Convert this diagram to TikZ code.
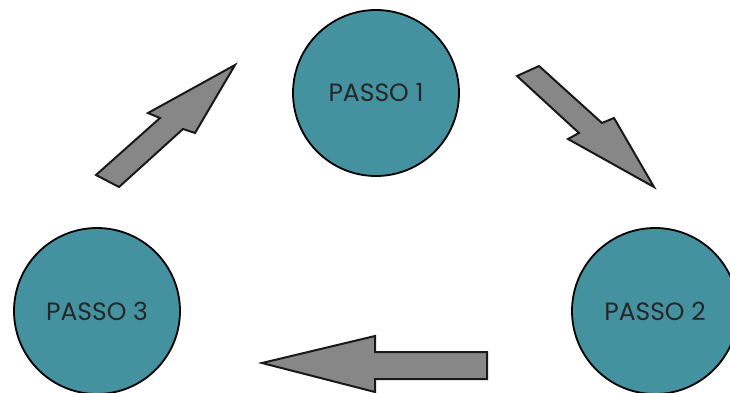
\documentclass[tikz,border=0pt]{standalone}
\usepackage{fontspec}
\setmainfont{Poppins}
\definecolor{teal1}{RGB}{68,146,160}
\definecolor{arrgray}{RGB}{135,135,135}
\begin{document}
\begin{tikzpicture}[x=1pt,y=-1pt,
  passo/.style={circle,draw=black,line width=1.8pt,fill=teal1,minimum size=166pt,inner sep=0pt,
    font=\fontsize{25}{28}\selectfont,text=black!85},
  blockarrow/.style={draw=black!90,line width=2pt,fill=arrgray,line join=miter}]
\useasboundingbox (0,0) rectangle (730,392);
\begin{scope}
\clip (0,0) rectangle (730,392);
\node[passo] (p1) at (376,93) {PASSO 1};
\node[passo] (p2) at (655,311) {PASSO 2};
\node[passo] (p3) at (97,311) {PASSO 3};
% arrow from PASSO 3 to PASSO 1
\draw[blockarrow] (96,175) -- (160,118) -- (148,113) -- (235,65) -- (195,133) -- (183,129) -- (119,187) -- cycle;
% arrow from PASSO 1 to PASSO 2
\draw[blockarrow] (517,76) -- (539,66) -- (602,123) -- (614,118) -- (654,187) -- (568,139) -- (579,133) -- cycle;
% arrow from PASSO 2 to PASSO 3
\draw[blockarrow] (262,363) -- (375,336) -- (375,352) -- (487,352) -- (487,379) -- (375,379) -- (375,392) -- cycle;
\end{scope}
\end{tikzpicture}
\end{document}
